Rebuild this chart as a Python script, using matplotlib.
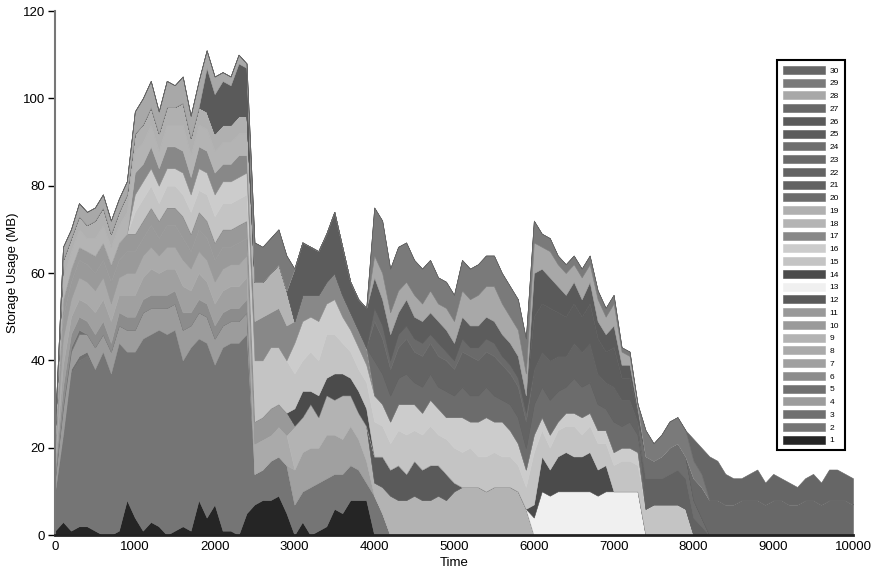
import matplotlib.pyplot as plt
import numpy as np

plt.rcParams['font.family'] = ['Liberation Sans', 'DejaVu Sans']

# time grid (one sample every 100 time units)
t = np.arange(0, 10001, 100)

# storage per job (MB), each list starts at the time in series_start
s1 = [1, 3, 1, 2, 2, 1, 0, 0, 1, 8, 4, 1, 3, 2, 0, 1, 2, 1, 8, 4, 7, 1, 1, 0, 5,
      7, 8, 8, 9, 5,
      0, 3, 0, 1, 2, 6, 5, 8, 8, 8, 0]
s2 = [9, 19, 36, 38, 39, 37, 42, 37, 43, 34, 38, 44, 43, 45, 46, 46, 38, 42, 37, 40, 32, 42, 43, 44, 41,
      7, 7, 9, 9, 11,
      7, 7, 11, 11, 11, 8, 9, 8, 7, 4,
      9, 5, 0]
s3 = [1, 1, 1, 1]
s4 = [3, 6, 4, 5, 4, 5, 4, 5, 4, 5, 5, 6, 6, 5, 6, 6, 7, 5, 6, 6, 6, 5, 5, 5, 5]
s5 = [1, 1, 1]
s6 = [2, 4, 3, 3, 3, 3, 3, 2, 3, 3, 3, 3, 3, 3, 3, 3, 4, 3, 3, 3, 3, 3, 3, 3, 3]
s7 = [2, 5, 4, 4, 4, 5, 5, 5, 4, 5, 5, 5, 6, 5, 6, 5, 6, 5, 6, 5, 5, 5, 5, 5, 5,
      0, 0, 0, 0, 0,
      8, 9, 9, 8, 10, 9, 8, 9, 7, 5]
s8 = [2, 6, 4, 5, 5, 5, 5, 4, 4, 5, 5, 5, 5, 4, 5, 5, 6, 5, 5, 5, 5, 5, 5, 5, 5,
      7, 7, 6, 7, 7]
s9 = [10, 8, 10, 7, 9, 8, 10, 7, 6, 8,
      3, 6, 9, 8, 8, 9, 8, 8, 9, 8, 10, 11, 11, 11, 10, 11, 11, 11, 10, 6]
s10 = [2, 5, 4, 4, 4, 4, 4, 5, 4, 5, 5, 4, 5, 4, 5, 5, 5, 4, 5, 5, 5, 5, 4, 5, 4]
s11 = [1, 4, 3, 3, 3, 4, 4, 4, 4, 4, 4, 4, 4, 4, 4, 4, 5, 4, 4, 4, 4, 4, 4, 4, 4,
       5, 5, 6, 5, 5]
s12 = [6, 7, 6, 8, 6, 8, 7, 8, 7, 6, 2]
s13 = [4, 10, 9, 10, 10, 10, 10, 10, 9, 10, 10, 10, 10, 10]
s14 = [4, 6, 3, 5, 4, 6, 5, 4, 5, 4] + [0] * 20 + [3, 8, 6, 8, 9, 8, 8, 9, 6, 6]
s15 = [5, 5, 5, 4, 5, 5, 5, 5, 5, 6, 6, 6, 6, 6, 6,
       14, 13, 14, 13, 12,
       8, 7, 9, 8, 10, 9, 7, 6, 5, 6,
       8, 7, 6, 8, 9, 7, 8, 9, 7, 8, 8, 8, 9, 7, 8, 8, 7, 7, 6, 5,
       12, 6, 5, 6, 6, 7, 5, 6, 6, 5, 6, 7, 7, 6,
       6, 7, 7, 7, 7, 6]
s16 = [4, 4, 4, 4, 4, 4, 5, 4, 5, 5, 5, 5, 5, 5, 5] + [0] * 5 + \
      [7, 9, 8, 9, 7, 8, 6, 5, 5, 4,
       6, 5, 5, 6, 7, 6, 5, 6, 6, 5, 7, 8, 6, 8, 9, 7, 8, 6, 5, 4,
       4, 3, 3, 2, 3, 3, 4, 3, 3, 3, 3, 3, 3, 3]
s17 = [5, 4, 5, 4, 5, 5, 5, 4, 5, 5, 5, 4, 4, 5, 4,
       9, 10, 8, 9, 8,
       5, 6, 5, 6, 5, 6, 5, 4, 4, 4]
s18 = [1, 5, 4, 4, 3, 4, 4, 4, 4, 5, 5, 5, 5, 4, 5, 5, 6, 5, 5, 5, 5, 5, 5, 5, 5,
       9, 8, 9, 10, 8]
s19 = [1, 4, 3, 3, 3, 4, 4, 3, 3, 4, 4, 4, 4, 4, 4, 4, 5, 4, 4, 4, 4, 4, 4, 4, 4]
s20 = [8, 7, 6, 6, 7, 5, 6, 6, 5, 6, 5, 7, 6, 6, 7, 6, 5, 6, 6, 5,
       7, 7, 8, 7, 6, 8, 7, 7, 6, 5, 7, 5, 6, 4]
s21 = [7, 6, 6, 7, 8, 7, 4, 2]
s22 = [9, 8, 6, 7, 8, 7, 7, 7, 7, 7, 6, 8, 9, 8, 8, 9, 8, 7, 7, 6,
       8, 8, 9, 8, 7, 8, 8, 9, 7, 6, 8, 6, 5, 3]
s23 = [3, 3, 2, 3, 3, 3, 3, 2, 3, 2, 2, 3, 2, 3, 3, 3, 2, 2, 2, 2]
s24 = [5, 4, 5, 6, 6, 5, 4, 2]
s25 = [12, 12, 11, 10, 11, 14, 11, 7, 7, 9,
       7, 6, 6, 5, 6, 5, 5, 5, 5, 5, 4, 5, 5, 5, 5, 5, 5, 5, 5, 4,
       12, 11, 12, 10, 9, 9, 8, 9, 8, 7, 9, 5, 5, 2]
s26 = [10, 9, 10, 9, 12, 11] + [0] * 35 + [10, 8, 7, 6, 5, 5, 4, 5, 4, 4, 5, 3, 3, 1]
s27 = [5, 7, 8, 8, 7, 7, 8, 8, 8, 7, 8, 8, 7, 7, 8, 8, 7, 8, 8, 8, 7]
s28 = [1, 3, 2, 3, 3, 3, 3, 3, 3, 3, 5, 6, 6, 5, 6, 5, 6, 5, 6, 4, 4, 2, 2, 2, 1] + [0] * 15 + \
      [5, 6, 5, 5, 4, 5, 4, 5, 4, 5, 5, 6, 6, 7, 7, 8, 7, 6, 6, 5,
       7, 5, 6, 5, 5, 4, 5, 4, 5, 4, 5, 3, 2, 1]
s29 = [9, 8, 8, 8, 8] + [0] * 10 + \
      [11, 12, 10, 10, 9, 8, 8, 7, 6, 6, 6, 7, 7, 7, 7, 7, 7, 7, 7, 8,
       5, 3, 3, 2, 2, 2, 2, 2, 2, 2, 2, 1, 1, 0,
       6, 4, 5, 6, 6, 6, 4, 3]
s30 = [5, 6, 10, 9, 7, 6, 5, 6, 7, 5, 6, 5, 5, 4, 5, 6, 5, 7, 7, 6, 6]

series = [s1, s2, s3, s4, s5, s6, s7, s8, s9, s10, s11, s12, s13, s14, s15,
          s16, s17, s18, s19, s20, s21, s22, s23, s24, s25, s26, s27, s28, s29, s30]
series_start = [0, 0, 100, 0, 100, 0, 0, 0, 3000, 0, 0, 4000, 6000, 3000, 1000,
                1000, 1000, 0, 0, 4000, 7400, 4000, 4000, 7400, 3000, 1900, 8000, 0, 2500, 8000]
labels = [str(k) for k in range(1, 31)]

colors = ['#252525', '#757575', '#707070', '#9c9c9c', '#707070', '#8c8c8c', '#a0a0a0',
          '#aaaaaa', '#b3b3b3', '#9a9a9a', '#999999', '#5a5a5a', '#f0f0f0', '#4b4b4b',
          '#c4c4c4', '#cccccc', '#888888', '#b4b4b4', '#b0b0b0', '#6c6c6c', '#626262',
          '#636363', '#6a6a6a', '#6e6e6e', '#5c5c5c', '#5a5a5a', '#686868', '#a8a8a8',
          '#7a7a7a', '#666666']

ys = []
for vals, start in zip(series, series_start):
    y = np.zeros(len(t))
    i0 = start // 100
    y[i0:i0 + len(vals)] = vals
    ys.append(y)

fig = plt.figure(figsize=(8.76, 5.75), dpi=100)
ax = fig.add_axes([55 / 876, 40 / 575, 798 / 876, 524 / 575])

polys = ax.stackplot(t, ys, colors=colors, labels=labels, linewidth=0.4)
for p, c in zip(polys, colors):
    p.set_edgecolor(c)

ax.set_xlim(0, 10000)
ax.set_ylim(0, 120)
ax.set_xticks(range(0, 10001, 1000))
ax.set_yticks(range(0, 121, 20))
ax.spines['top'].set_visible(False)
ax.spines['right'].set_visible(False)
ax.spines['left'].set_color('#777777')
ax.spines['left'].set_linewidth(1.5)
ax.spines['bottom'].set_color('#222222')
ax.spines['bottom'].set_linewidth(2)
ax.tick_params(axis='y', direction='out', length=5, width=1, labelsize=9.5, pad=2)
ax.tick_params(axis='x', length=0, labelsize=9.5, pad=4)
ax.set_xlabel('Time', fontsize=9.5, labelpad=3)
ax.set_ylabel('Storage Usage (MB)', fontsize=9.5, labelpad=3)

handles, labs = ax.get_legend_handles_labels()
leg = ax.legend(handles[::-1], labs[::-1], loc='upper left',
                bbox_to_anchor=(777 / 876, 515 / 575), bbox_transform=fig.transFigure,
                fancybox=False, edgecolor='black', fontsize=6, handlelength=5.0,
                handleheight=1.1, labelspacing=0.47, borderpad=0.7, handletextpad=0.6,
                borderaxespad=0, framealpha=1)
leg.get_frame().set_linewidth(1.5)

fig.savefig('out.png', dpi=100)
